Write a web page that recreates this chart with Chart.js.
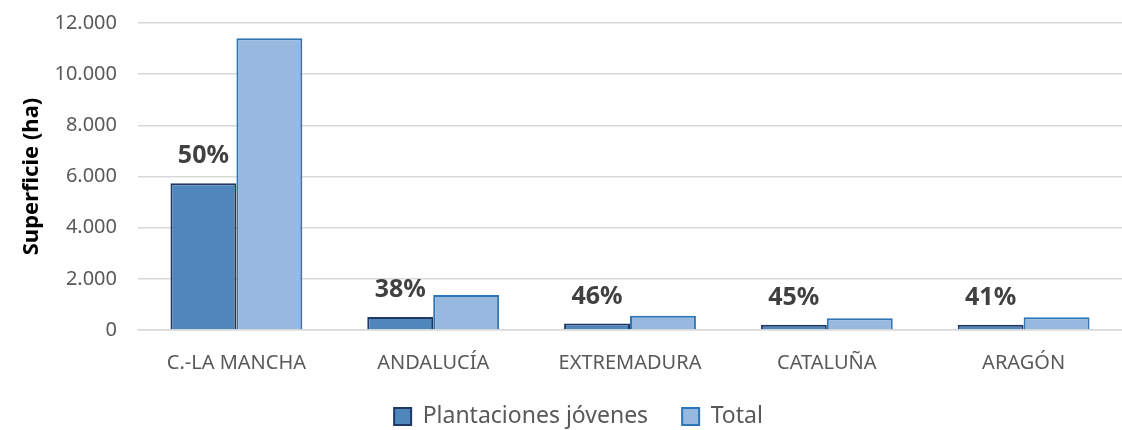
<!DOCTYPE html>
<html>
<head>
<meta charset="utf-8">
<script src="https://cdn.jsdelivr.net/npm/chart.js@4.4.0/dist/chart.umd.min.js"></script>
<style>
html,body{margin:0;padding:0;background:#fff;}
#wrap{width:1122px;height:430px;position:relative;}
</style>
</head>
<body>
<div id="wrap"><canvas id="c" width="1122" height="430"></canvas></div>
<script>
const categories = ["C.-LA MANCHA", "ANDALUCÍA", "EXTREMADURA", "CATALUÑA", "ARAGÓN"];
const jovenes = [5740, 510, 255, 205, 203];
const total = [11400, 1370, 555, 455, 495];
const pctLabels = ["50%", "38%", "46%", "45%", "41%"];
const yTicks = [0, 2000, 4000, 6000, 8000, 10000, 12000];

const FONT = "'Noto Sans', 'Liberation Sans', sans-serif";
const LEGEND_PAD = 34;

function fmt(v){ return String(v).replace(/\B(?=(\d{3})+(?!\d))/g, "."); }

const pctPlugin = {
  id: 'pct',
  afterInit(chart){
    const lg = chart.legend;
    if (lg) {
      const orig = lg.fit.bind(lg);
      lg.fit = function(){ orig(); this.height = 52; };
    }
  },
  afterLayout(chart){
    const lg = chart.legend;
    if (lg) {
      lg.top = 371;
      lg.bottom = 430;
      lg.height = 59;
    }
  },
  afterDatasetsDraw(chart){
    const ctx = chart.ctx;
    const meta = chart.getDatasetMeta(0);
    ctx.save();
    ctx.font = "bold 25px " + FONT;
    ctx.fillStyle = "#404040";
    ctx.textAlign = "center";
    ctx.textBaseline = "middle";
    meta.data.forEach((bar, i) => {
      ctx.fillText(pctLabels[i], bar.x, bar.y - 27);
    });
    ctx.restore();
  }
};

new Chart(document.getElementById('c'), {
  type: 'bar',
  data: {
    labels: categories,
    datasets: [
      { label: 'Plantaciones jóvenes', data: jovenes, backgroundColor: '#4f87bd', borderColor: '#1f3864', borderWidth: 2, borderSkipped: 'bottom' },
      { label: 'Total', data: total, backgroundColor: '#97b9e0', borderColor: '#2e75b6', borderWidth: 2, borderSkipped: 'bottom' }
    ]
  },
  options: {
    responsive: false,
    animation: false,
    devicePixelRatio: 1,
    layout: { padding: { left: 19, right: -16, top: 23, bottom: 0 } },
    datasets: { bar: { categoryPercentage: 0.67, barPercentage: 1.0 } },
    scales: {
      x: {
        grid: { display: false, drawTicks: false },
        border: { display: true, color: '#d9d9d9', width: 1.5 },
        ticks: { color: '#595959', font: { family: FONT, size: 20 }, padding: 21, maxRotation: 0 },
        afterFit(axis){ axis.height = 48; axis.paddingLeft = 0; axis.paddingRight = 0; }
      },
      y: {
        min: 0, max: 12000,
        afterBuildTicks(axis){ axis.ticks = yTicks.map(v => ({ value: v })); },
        grid: { color: '#d9d9d9', lineWidth: 1.5, drawTicks: false },
        border: { display: false },
        ticks: { color: '#595959', font: { family: FONT, size: 20 }, padding: 21, callback: v => fmt(v) },
        title: { display: true, text: 'Superficie (ha)', color: '#000', font: { family: FONT, size: 22, weight: 'bold' }, padding: { top: 0, bottom: 6 } },
        afterFit(axis){ axis.width = 119; axis.paddingTop = 0; axis.paddingBottom = 0; }
      }
    },
    plugins: {
      legend: {
        position: 'bottom',
        labels: {
          color: '#595959',
          font: { family: FONT, size: 23 },
          boxWidth: 17, boxHeight: 17, padding: LEGEND_PAD
        }
      },
      tooltip: { enabled: false }
    }
  },
  plugins: [pctPlugin]
});
</script>
</body>
</html>
